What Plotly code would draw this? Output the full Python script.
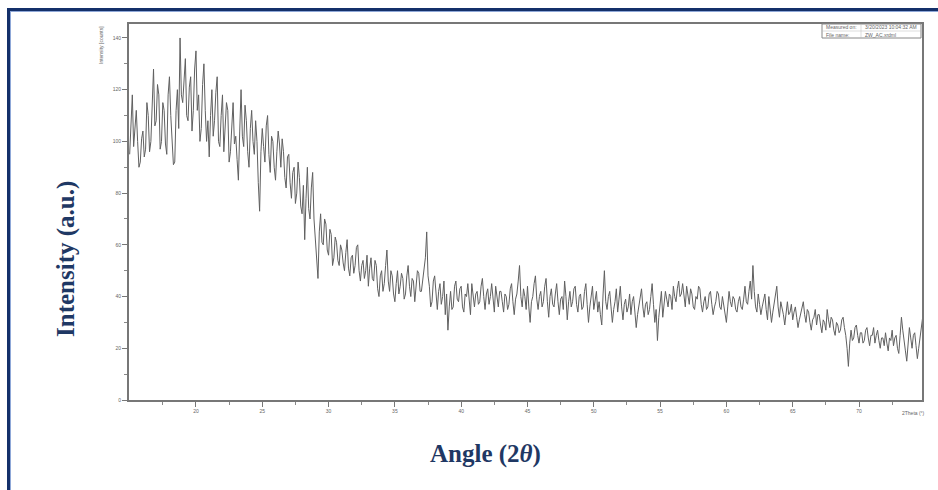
import plotly.graph_objects as go

# ---- data ----
angle_start = 15.0
angle_step = 0.1
intensity = [
    95, 108, 118, 98, 105, 112, 100, 90, 92, 101, 104, 94, 97, 115, 110, 96, 100, 118, 128, 106,
    108, 122, 118, 97, 100, 115, 112, 99, 95, 118, 125, 110, 102, 91, 92, 112, 120, 105, 140, 118,
    115, 126, 132, 110, 108, 121, 125, 104, 112, 128, 135, 112, 118, 100, 105, 122, 130, 112, 100, 108,
    94, 110, 120, 102, 108, 119, 125, 100, 98, 110, 118, 96, 105, 115, 112, 92, 96, 108, 115, 99,
    102, 93, 85, 104, 120, 102, 98, 114, 108, 96, 90, 105, 112, 100, 95, 108, 100, 84, 73, 96,
    105, 98, 92, 106, 110, 95, 88, 102, 100, 90, 85, 96, 104, 99, 90, 101, 96, 86, 82, 94,
    95, 84, 78, 88, 90, 76, 80, 92, 86, 75, 72, 83, 62, 78, 90, 74, 70, 82, 88, 70,
    62, 58, 47, 65, 72, 61, 60, 70, 68, 58, 56, 66, 64, 52, 55, 63, 61, 54, 52, 60,
    58, 53, 50, 57, 62, 51, 48, 55, 56, 49, 52, 59, 60, 50, 46, 52, 54, 47, 50, 56,
    44, 51, 55, 47, 46, 54, 52, 43, 40, 48, 50, 42, 45, 52, 58, 46, 42, 50, 48, 41,
    38, 45, 50, 41, 44, 49, 47, 39, 41, 48, 52, 44, 40, 47, 46, 38, 43, 50, 49, 42,
    42, 47, 50, 55, 65, 48, 44, 36, 38, 46, 48, 40, 35, 42, 45, 37, 40, 46, 33, 41,
    27, 36, 42, 35, 36, 44, 46, 39, 38, 43, 44, 36, 34, 41, 40, 45, 37, 33, 45, 39,
    36, 41, 42, 37, 38, 44, 47, 40, 35, 41, 43, 37, 40, 45, 38, 34, 44, 40, 36, 42,
    42, 38, 34, 41, 40, 35, 37, 43, 45, 38, 33, 39, 41, 46, 52, 40, 36, 43, 40, 35,
    44, 36, 30, 38, 40, 45, 48, 39, 35, 40, 42, 36, 38, 44, 47, 38, 32, 40, 43, 37,
    36, 41, 45, 38, 33, 39, 40, 35, 46, 40, 31, 38, 42, 36, 38, 43, 44, 37, 34, 40,
    41, 35, 36, 42, 45, 37, 30, 36, 40, 44, 35, 39, 42, 34, 38, 33, 29, 41, 50, 38,
    35, 40, 42, 36, 30, 35, 38, 43, 34, 39, 44, 36, 31, 37, 39, 34, 36, 41, 33, 38,
    40, 34, 28, 33, 37, 41, 43, 36, 32, 37, 38, 33, 35, 40, 45, 37, 30, 35, 23, 32,
    38, 42, 32, 37, 42, 39, 36, 41, 40, 35, 44, 40, 38, 43, 46, 40, 41, 45, 39, 36,
    44, 40, 37, 43, 41, 36, 35, 40, 39, 44, 43, 37, 34, 38, 40, 35, 36, 41, 42, 37,
    33, 36, 38, 42, 41, 36, 35, 40, 37, 33, 30, 36, 42, 38, 36, 40, 39, 35, 34, 38,
    40, 36, 35, 39, 44, 38, 37, 42, 46, 39, 52, 42, 36, 34, 41, 37, 33, 36, 38, 41,
    35, 31, 40, 35, 30, 34, 37, 41, 44, 36, 32, 38, 36, 33, 29, 35, 38, 33, 34, 37,
    31, 34, 36, 32, 28, 31, 33, 36, 38, 33, 30, 35, 34, 30, 27, 31, 32, 35, 29, 33,
    33, 29, 26, 31, 30, 27, 35, 31, 28, 32, 31, 27, 25, 30, 29, 26, 27, 31, 32, 28,
    25, 20, 13, 22, 27, 23, 24, 28, 29, 25, 22, 26, 26, 22, 23, 27, 28, 24, 21, 25,
    25, 28, 22, 25, 27, 23, 20, 24, 24, 21, 26, 22, 19, 24, 23, 27, 21, 24, 25, 20,
    18, 25, 32, 27, 22, 19, 15, 22, 28, 24, 20, 25, 26, 21, 16, 20, 24, 28, 32,
]
angles = [round(angle_start + i * angle_step, 2) for i in range(len(intensity))]

x_ticks = [20, 25, 30, 35, 40, 45, 50, 55, 60, 65, 70]
y_ticks = [0, 20, 40, 60, 80, 100, 120, 140]
info_labels = ["Measured on:", "File name:"]
info_values = ["3/20/2023 10:04:32 AM", "ZW_AC.xrdml"]

W, H = 938, 490
L, R, T, B = 129, 16, 24, 90
pw, ph = W - L - R, H - T - B


def px(xp):
    return (xp - L) / pw


def py(yp):
    return 1 - (yp - T) / ph


fig = go.Figure()
fig.add_trace(go.Scatter(
    x=angles, y=intensity, mode="lines",
    line=dict(color="#606060", width=1),
    showlegend=False, hoverinfo="skip",
))

tickfont = dict(family="Liberation Sans", size=5, color="#666")
fig.update_xaxes(
    range=[14.95, 74.75], tickmode="array", tickvals=x_ticks,
    ticktext=[str(v) for v in x_ticks],
    ticks="outside", ticklen=5, tickwidth=1, tickcolor="#777",
    minor=dict(tickmode="array", tickvals=[17.5 + 5 * i for i in range(12)],
               ticks="outside", ticklen=3, tickcolor="#888"),
    showline=True, linecolor="#777", linewidth=2, mirror=True,
    showgrid=False, zeroline=False, tickfont=tickfont,
)
fig.update_yaxes(
    range=[0, 145.4], tickmode="array", tickvals=y_ticks,
    ticktext=[str(v) for v in y_ticks],
    ticks="outside", ticklen=5, tickwidth=1, tickcolor="#777",
    minor=dict(tickmode="array", tickvals=[10 + 20 * i for i in range(7)],
               ticks="outside", ticklen=3, tickcolor="#888"),
    showline=True, linecolor="#777", linewidth=2, mirror=True,
    showgrid=False, zeroline=False, tickfont=tickfont,
)

shapes = [
    # blue frame (top and left)
    dict(type="line", xref="paper", yref="paper", x0=px(8), x1=px(W + 5),
         y0=py(9.5), y1=py(9.5), line=dict(color="#14306a", width=3)),
    dict(type="line", xref="paper", yref="paper", x0=px(10), x1=px(W + 5),
         y0=py(11.5), y1=py(11.5), line=dict(color="#8fa8d8", width=1)),
    dict(type="line", xref="paper", yref="paper", x0=px(8.5), x1=px(8.5),
         y0=py(8), y1=py(H + 5), line=dict(color="#14306a", width=3)),
    dict(type="line", xref="paper", yref="paper", x0=px(10.5), x1=px(10.5),
         y0=py(11), y1=py(H + 5), line=dict(color="#8fa8d8", width=1)),
    # info box
    dict(type="rect", xref="paper", yref="paper", x0=px(822), x1=px(921),
         y0=py(38), y1=py(24), line=dict(color="#888", width=1),
         fillcolor="white"),
    dict(type="line", xref="paper", yref="paper", x0=px(822), x1=px(921),
         y0=py(31), y1=py(31), line=dict(color="#bbb", width=0.5)),
    dict(type="line", xref="paper", yref="paper", x0=px(861), x1=px(861),
         y0=py(38), y1=py(24), line=dict(color="#bbb", width=0.5)),
]

small = dict(family="Liberation Sans", size=5, color="#666")
big = dict(family="Liberation Serif", size=25, color="#1f3864")


def note(text, xp, yp, font, angle=0, xanchor="center"):
    return dict(text=text, x=px(xp), y=py(yp), xref="paper", yref="paper",
                xanchor=xanchor, yanchor="middle", textangle=angle,
                showarrow=False, font=font)


ann = [
    note("<b>Intensity (a.u.)</b>", 66, 259, big, angle=-90),
    note("<b>Angle (2</b><b><i>θ</i></b><b>)</b>", 485, 454, big),
    note("Intensity [counts]", 101, 45, small, angle=-90),
    note("2Theta (°)", 913, 413, small),
]
for i, (lab, val) in enumerate(zip(info_labels, info_values)):
    yy = 27.5 + 7 * i
    ann.append(note(lab, 824, yy, small, xanchor="left"))
    ann.append(note(val, 863, yy, small, xanchor="left"))

fig.update_layout(
    width=W, height=H, margin=dict(l=L, r=R, t=T, b=B, autoexpand=False),
    paper_bgcolor="white", plot_bgcolor="white",
    shapes=shapes, annotations=ann,
)

fig.write_html("out.html")
